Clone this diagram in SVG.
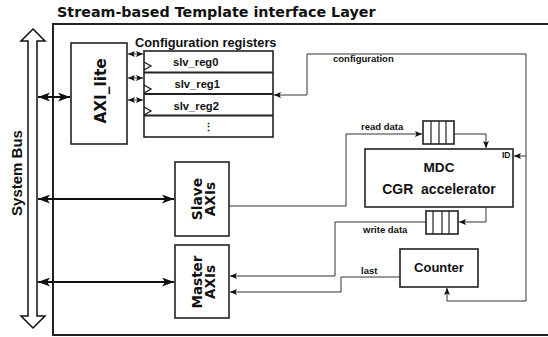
<svg xmlns="http://www.w3.org/2000/svg" width="548" height="337" viewBox="0 0 548 337">
<style>
.box{fill:#fff;stroke:#222;stroke-width:1.6}
.thin{fill:none;stroke:#333;stroke-width:1}
.thick{fill:none;stroke:#111;stroke-width:2}
.lbl{font-family:"Liberation Sans",Arial,sans-serif;font-weight:bold;fill:#111}
.dj{font-family:"DejaVu Sans",Verdana,sans-serif;font-weight:bold;fill:#111}
</style>
<defs>
<marker id="big" markerUnits="userSpaceOnUse" markerWidth="13" markerHeight="10" refX="12" refY="4.5" orient="auto-start-reverse"><path d="M0,0 L12,4.5 L0,9 L3,4.5 z" fill="#111"/></marker>
<marker id="sm" markerUnits="userSpaceOnUse" markerWidth="8" markerHeight="7" refX="7" refY="3" orient="auto-start-reverse"><path d="M0,0 L7,3 L0,6 L1.5,3 z" fill="#111"/></marker>
</defs>
<text class="dj" x="57" y="16.5" font-size="14.3">Stream-based Template interface Layer</text>
<g id="layer"><path d="M560,24 H53 V335 H560" fill="none" stroke="#222" stroke-width="2"/></g>
<g id="system-bus">
<polygon points="33,29 45,41 37,41 37,316 45,316 33,328 21,316 28,316 28,41 21,41" fill="#fff" stroke="#111" stroke-width="1.5"/>
<text class="lbl" font-size="15" text-anchor="middle" transform="translate(22,173) rotate(-90)">System Bus</text>
</g>
<g id="axi-lite">
<rect class="box" x="71" y="43" width="56" height="101"/>
<text class="dj" font-size="15.3" text-anchor="middle" transform="translate(106,91) rotate(-90)">AXI_lite</text>
</g>
<g id="config-registers">
<text class="lbl" x="135" y="46.5" font-size="12.8">Configuration registers</text>
<rect class="box" x="144" y="51" width="129" height="86" stroke-width="2"/>
<path d="M144,72.5 H273 M144,94 H273 M144,115.5 H273" stroke="#222" stroke-width="2"/>
<path d="M144,62 L151,66 L144,70 M144,85 L151,89 L144,93 M144,107 L151,111 L144,115" fill="none" stroke="#111" stroke-width="1.2"/>
<text class="lbl" x="173" y="65.5" font-size="11.2">slv_reg0</text>
<text class="lbl" x="174.5" y="88" font-size="11.2">slv_reg1</text>
<text class="lbl" x="173.5" y="109.5" font-size="11.2">slv_reg2</text>
<text class="lbl" x="208" y="131" font-size="11" text-anchor="middle">⋮</text>
</g>
<g id="slave-axis">
<rect class="box" x="175" y="162" width="54" height="74"/>
<text class="dj" font-size="13.8" text-anchor="middle" transform="translate(202,199) rotate(-90)">Slave</text>
<text class="dj" font-size="13.8" text-anchor="middle" transform="translate(215,199) rotate(-90)">AXIs</text>
</g>
<g id="master-axis">
<rect class="box" x="175" y="245" width="54" height="73"/>
<text class="dj" font-size="13.5" text-anchor="middle" transform="translate(202,282) rotate(-90)">Master</text>
<text class="dj" font-size="13.5" text-anchor="middle" transform="translate(215,282) rotate(-90)">AXIs</text>
</g>
<g id="mdc">
<rect class="box" x="365" y="149" width="148" height="58"/>
<text class="lbl" x="439" y="172" font-size="13.6" text-anchor="middle">MDC</text>
<text class="lbl" x="439" y="194" font-size="14" text-anchor="middle" xml:space="preserve">CGR  accelerator</text>
<text class="lbl" x="502" y="158" font-size="8.5">ID</text>
</g>
<g id="read-fifo">
<rect class="box" x="423" y="121" width="31" height="23" stroke-width="1.2"/>
<path d="M431,121 V144 M439,121 V144 M446,121 V144" stroke="#222" stroke-width="1.2"/>
</g>
<g id="write-fifo">
<rect class="box" x="426" y="211" width="32" height="23" stroke-width="1.2"/>
<path d="M433,211 V234 M442,211 V234 M449,211 V234" stroke="#222" stroke-width="1.2"/>
</g>
<g id="counter">
<rect class="box" x="400" y="249" width="78" height="38"/>
<text class="lbl" x="439" y="272" font-size="13" text-anchor="middle">Counter</text>
</g>
<g id="connectors">
<path class="thick" d="M38,97 H70" marker-start="url(#big)" marker-end="url(#big)"/>
<path class="thick" d="M38,199 H174" marker-start="url(#big)" marker-end="url(#big)"/>
<path class="thick" d="M38,282 H174" marker-start="url(#big)" marker-end="url(#big)"/>
<path class="thin" d="M128,54 H143" marker-start="url(#sm)" marker-end="url(#sm)"/>
<path class="thin" d="M128,78 H143" marker-start="url(#sm)" marker-end="url(#sm)"/>
<path class="thin" d="M128,100 H143" marker-start="url(#sm)" marker-end="url(#sm)"/>
<path class="thin" d="M526,54 H307 V95 H274" marker-end="url(#sm)"/>
<path class="thin" d="M526,54 V301 H447 V288" marker-end="url(#sm)"/>
<path class="thin" d="M526,156 H514" marker-end="url(#sm)"/>
<path class="thin" d="M229,206 H346 V134 H422" marker-end="url(#sm)"/>
<path class="thin" d="M454,134 H486 V148" marker-end="url(#sm)"/>
<path class="thin" d="M486,207 V222 H459" marker-end="url(#sm)"/>
<path class="thin" d="M426,222 H335 V276 H230" marker-end="url(#sm)"/>
<path class="thin" d="M400,277 H341 V292 H230" marker-end="url(#sm)"/>
<text class="lbl" x="333" y="62" font-size="9.5">configuration</text>
<text class="lbl" x="361" y="130" font-size="9.5">read data</text>
<text class="lbl" x="363" y="233" font-size="9.5">write data</text>
<text class="lbl" x="361" y="274" font-size="9.5">last</text>
</g>
</svg>
